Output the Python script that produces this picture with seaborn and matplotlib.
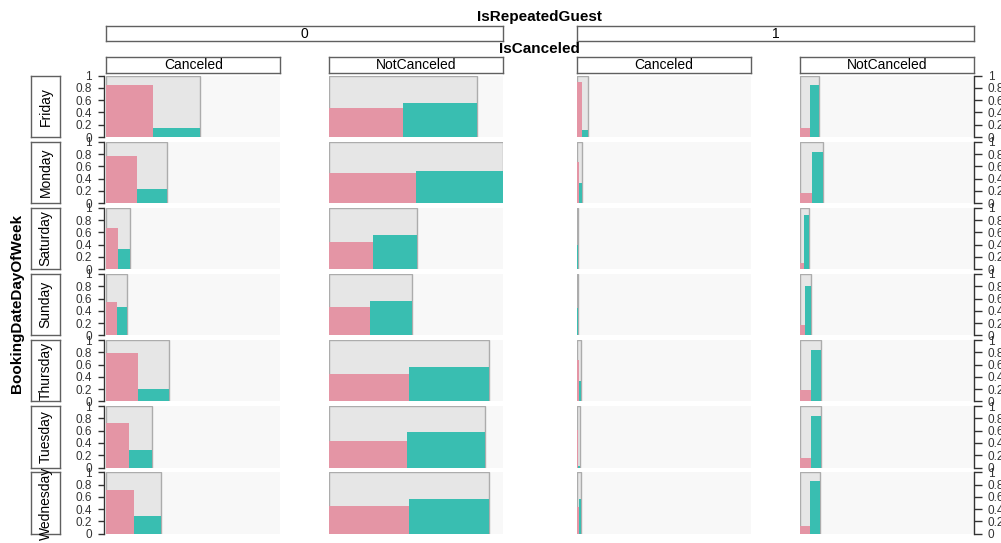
import numpy as np
import pandas as pd
import matplotlib
matplotlib.use("Agg")
import matplotlib.pyplot as plt
import seaborn as sns

# ---- data -------------------------------------------------------------
days = ["Friday", "Monday", "Saturday", "Sunday", "Thursday", "Tuesday", "Wednesday"]
repeated_levels = ["0", "1"]
canceled_levels = ["Canceled", "NotCanceled"]

# relative cell size (share of the largest cell) per column:
# (guest 0, Canceled), (guest 0, NotCanceled), (guest 1, Canceled), (guest 1, NotCanceled)
cell_width = {
    ("0", "Canceled"):    [0.540, 0.349, 0.138, 0.121, 0.359, 0.264, 0.314],
    ("0", "NotCanceled"): [0.847, 1.000, 0.502, 0.473, 0.920, 0.897, 0.916],
    ("1", "Canceled"):    [0.063, 0.027, 0.005, 0.004, 0.025, 0.017, 0.021],
    ("1", "NotCanceled"): [0.111, 0.134, 0.050, 0.063, 0.121, 0.121, 0.117],
}
# proportion of the first / second inner level in each cell
first_share = {
    ("0", "Canceled"):    [0.856, 0.768, 0.676, 0.551, 0.790, 0.727, 0.710],
    ("0", "NotCanceled"): [0.470, 0.497, 0.438, 0.454, 0.448, 0.437, 0.448],
    ("1", "Canceled"):    [0.900, 0.665, 0.600, 0.550, 0.680, 0.610, 0.440],
    ("1", "NotCanceled"): [0.153, 0.162, 0.100, 0.170, 0.180, 0.153, 0.120],
}
second_share = {
    ("0", "Canceled"):    [0.149, 0.238, 0.324, 0.454, 0.210, 0.284, 0.290],
    ("0", "NotCanceled"): [0.547, 0.530, 0.562, 0.557, 0.557, 0.574, 0.557],
    ("1", "Canceled"):    [0.110, 0.335, 0.400, 0.450, 0.340, 0.020, 0.560],
    ("1", "NotCanceled"): [0.850, 0.840, 0.890, 0.810, 0.836, 0.840, 0.860],
}
y_ticks = [0, 0.2, 0.4, 0.6, 0.8, 1]
y_tick_labels = ["0", "0.2", "0.4", "0.6", "0.8", "1"]

# ---- style --------------------------------------------------------------
sns.set_theme(style="white")
plt.rcParams["font.family"] = ["Liberation Sans", "DejaVu Sans"]

PINK = "#E495A5"
TEAL = "#39BEB1"
CELL_FILL = "#e6e6e6"
CELL_EDGE = "#acacac"
PANEL_BG = "#f8f8f8"
INK = "#333333"
STRIP_EDGE = "#606060"

W, H = 1001, 543
fig = plt.figure(figsize=(W / 100, H / 100), dpi=100)
fig.patch.set_facecolor("white")


def px_axes(x, y, w, h):
    """Axes from a pixel box measured from the top-left corner."""
    return fig.add_axes([x / W, 1 - (y + h) / H, w / W, h / H])


def strip(x, y, w, h, label, rotation=0):
    sa = px_axes(x, y, w, h)
    sa.set_xticks([])
    sa.set_yticks([])
    sa.set_facecolor("white")
    for s in sa.spines.values():
        s.set_visible(True)
        s.set_color(STRIP_EDGE)
        s.set_linewidth(1.0)
    sa.text(0.5, 0.5, label, ha="center", va="center", rotation=rotation,
            fontsize=10, color="black", transform=sa.transAxes, clip_on=False)
    return sa


col_left = [106.3, 329.3, 577.0, 800.0]
col_w = 174.0
row_top0, row_pitch, row_h = 75.7, 66.1, 61.3

columns = [(r, c) for r in repeated_levels for c in canceled_levels]

for j, key in enumerate(columns):
    for i, day in enumerate(days):
        ax = px_axes(col_left[j], row_top0 + i * row_pitch, col_w, row_h)
        ax.set_facecolor(PANEL_BG)
        w = cell_width[key][i]

        # outer cell: full height, width proportional to the cell size
        sns.histplot(x=[w / 2], weights=[1.0], bins=[0, w], color=CELL_FILL,
                     edgecolor=CELL_EDGE, linewidth=1.0, alpha=1, ax=ax,
                     zorder=1)

        # two inner bars splitting the cell width in half
        inner = pd.DataFrame({
            "pos": [w / 4, 3 * w / 4],
            "share": [first_share[key][i], second_share[key][i]],
            "level": ["first", "second"],
        })
        sns.histplot(data=inner, x="pos", weights="share", hue="level",
                     bins=[0, w / 2, w], multiple="layer",
                     palette=[PINK, TEAL], alpha=1, linewidth=0,
                     legend=False, ax=ax, zorder=2)

        ax.set_xlim(0, 1)
        ax.set_ylim(0, 1)
        ax.set_xlabel("")
        ax.set_ylabel("")
        ax.set_xticks([])
        for s in ax.spines.values():
            s.set_visible(False)

        if j == 0:
            sp = ax.spines["left"]
            sp.set_visible(True)
            sp.set_color(INK)
            sp.set_linewidth(1.0)
            sp.set_position(("outward", 1.8))
            ax.set_yticks(y_ticks)
            ax.set_yticklabels(y_tick_labels)
            ax.tick_params(axis="y", left=True, right=False, direction="out",
                           length=4.5, width=1.0, color=INK, pad=4.0,
                           labelsize=8.5, labelcolor=INK)
        elif j == len(columns) - 1:
            sp = ax.spines["right"]
            sp.set_visible(True)
            sp.set_color(INK)
            sp.set_linewidth(1.0)
            ax.yaxis.tick_right()
            ax.set_yticks(y_ticks)
            ax.set_yticklabels(y_tick_labels)
            ax.tick_params(axis="y", left=False, right=True, direction="out",
                           length=5.5, width=1.0, color=INK, pad=4.5,
                           labelsize=8.5, labelcolor=INK, labelright=True,
                           labelleft=False)
        else:
            ax.set_yticks([])

# row strips
for i, day in enumerate(days):
    strip(31.0, row_top0 + i * row_pitch, 29.3, row_h, day, rotation=90)

# column strips: inner factor
for j, key in enumerate(columns):
    strip(col_left[j], 56.7, col_w, 16.0, key[1])

# column strips: outer factor
for k, lev in enumerate(repeated_levels):
    x0 = col_left[2 * k]
    x1 = col_left[2 * k + 1] + col_w
    strip(x0, 26.0, x1 - x0, 15.3, lev)

fig.text(539.5 / W, 1 - 17.5 / H, "IsRepeatedGuest", ha="center", va="center",
         fontsize=11, fontweight="bold", color="black")
fig.text(539.0 / W, 1 - 49.0 / H, "IsCanceled", ha="center", va="center",
         fontsize=11, fontweight="bold", color="black")
fig.text(17.0 / W, 1 - 303.0 / H, "BookingDateDayOfWeek", ha="center",
         va="center", rotation=90, fontsize=11, fontweight="bold",
         color="black")

fig.savefig("out.png", dpi=100, facecolor="white")
